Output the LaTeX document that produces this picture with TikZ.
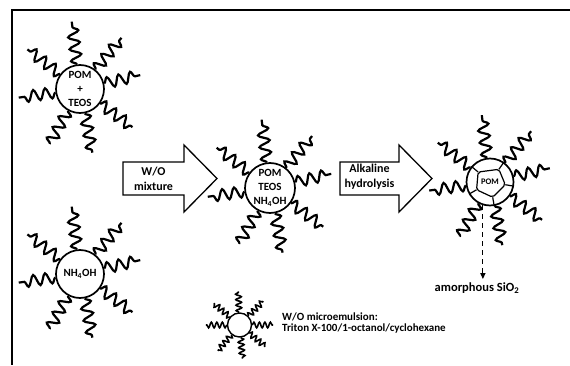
\documentclass[tikz,border=0pt]{standalone}
\usepackage{fontspec}
\setmainfont{Carlito}
\usetikzlibrary{decorations.pathmorphing,arrows.meta}

\tikzset{
  core/.style={circle,draw,line width=1.7pt,minimum size=48pt,inner sep=0pt,
    align=center,font=\bfseries\fontsize{11}{14}\selectfont},
  tail/.style={line width=2.2pt,decorate,
    decoration={snake,segment length=12pt,amplitude=5.5pt}},
  shorttail/.style={line width=1.6pt,decorate,
    decoration={snake,segment length=5.5pt,amplitude=2.8pt}},
  blockarrow/.style={draw,line width=1.3pt,line join=miter},
  arrowtext/.style={align=center,font=\bfseries\fontsize{12}{15}\selectfont},
}

\begin{document}
\begin{tikzpicture}[x=1pt,y=1pt]
  \useasboundingbox (0,0) rectangle (570,365);
  % frame
  \draw[line width=1.6pt] (570,355) -- (12,355) -- (12,0);

  % micelles
  \node[core] (m1) at (80,276) {POM\\+\\TEOS};
  \node[core] (m2) at (80,91) {NH\textsubscript{4}OH};
  \node[core,minimum size=50pt] (m3) at (270,177) {POM\\TEOS\\NH\textsubscript{4}OH};
  \node[core,minimum size=47pt,font=\bfseries\fontsize{8.5}{10}\selectfont] (m4) at (490,183) {POM};
  \node[core,minimum size=24pt,line width=1.4pt] (m5) at (239.5,40) {};

  \foreach \m in {m1,m2,m3,m4} {
    \foreach \a/\l in {97/43,143/41,51/41,13/37,-36/40,-79/40,-119/38,188/37}
      \draw[tail] (\m.\a) -- +(\a:\l);
  }
  \foreach \a in {92,140,45,0,-40,-85,-130,180}
    \draw[shorttail] (m5.\a) -- +(\a:21);

  % silica shell around the last core
  \foreach \a [count=\i] in {140,55,-10,-80,-150}
    \path (m4) ++(\a:15.5) coordinate (p\i);
  \draw[line width=1.2pt,rounded corners=2pt] (p1) -- (p2) -- (p3) -- (p4) -- (p5) -- cycle;
  \foreach \a [count=\i] in {140,55,-10,-80,-150}
    \draw[line width=1.2pt] (p\i) -- (m4.\a);

  % block arrows
  \draw[blockarrow] (123,203) -- (184,203) -- (184,220) -- (217,186.5)
    -- (184,153) -- (184,170) -- (123,170) -- cycle;
  \node[arrowtext] (mix) at (153.5,186.5) {W/O\\mixture};
  \draw[blockarrow] (340,203) -- (399,203) -- (399,220) -- (432,186.5)
    -- (399,153) -- (399,170) -- (340,170) -- cycle;
  \node[arrowtext] (hyd) at (369.5,188) {Alkaline\\hydrolysis};

  % product
  \node[arrowtext,font=\bfseries\fontsize{12.5}{14}\selectfont] (sio2) at (477,77) {amorphous SiO\textsubscript{2}};
  \draw[line width=1.2pt,dash pattern=on 5pt off 4pt,-{Triangle[length=6pt,width=5pt]}]
    (m4.-107) -- (m4.-107 |- sio2.north);

  % legend
  \node[anchor=west,align=left,font=\bfseries\fontsize{11}{11}\selectfont,inner sep=0pt] (leg) at (282,41.5)
    {W/O microemulsion:\\Triton X-100/1-octanol/cyclohexane};
\end{tikzpicture}
\end{document}
